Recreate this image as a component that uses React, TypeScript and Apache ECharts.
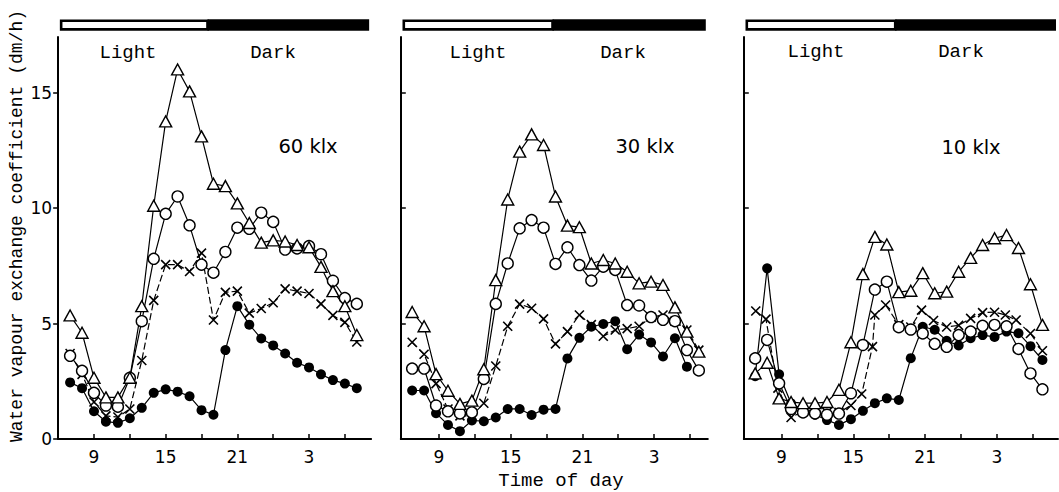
import { useEffect, useRef } from "react";
import * as echarts from "echarts";

// Sampling times (hours; values past 24 belong to the next morning)
const hours60 = [7, 8, 9, 10, 11, 12, 13, 14, 15, 16, 17, 18, 19, 20, 21, 22, 23, 24, 25, 26, 27, 28, 29, 30, 31];
const hours30 = [6.75, 7.75, 8.75, 9.75, 10.75, 11.75, 12.75, 13.75, 14.75, 15.75, 16.75, 17.75, 18.75, 19.75, 20.75, 21.75, 22.75, 23.75, 24.75, 25.75, 26.75, 27.75, 28.75, 29.75, 30.75];
const hours10 = [6.8, 7.8, 8.8, 9.8, 10.8, 11.8, 12.8, 13.8, 14.8, 15.8, 16.8, 17.8, 18.8, 19.8, 20.8, 21.8, 22.8, 23.8, 24.8, 25.8, 26.8, 27.8, 28.8, 29.8, 30.8];
const crossHours10 = [6.85, 7.7, 8.7, 9.8, 10.8, 11.8, 12.8, 13.8, 14.8, 15.7, 16.6, 16.8, 17.7, 18.8, 19.8, 20.7, 21.7, 22.8, 23.8, 24.8, 25.8, 26.8, 27.7, 28.6, 29.8, 30.8];

// 60 klx
const tri60 = [5.35, 4.6, 2.65, 1.8, 1.8, 2.65, 5.75, 10.1, 13.75, 16.0, 15.05, 13.1, 11.05, 10.95, 10.2, 9.35, 8.5, 8.6, 8.55, 8.4, 8.3, 7.45, 6.4, 5.75, 4.5];
const circ60 = [3.6, 2.95, 2.0, 1.45, 1.4, 2.65, 5.1, 7.8, 9.75, 10.5, 9.25, 7.55, 7.2, 8.1, 9.15, 9.1, 9.8, 9.4, 8.2, 8.25, 8.35, 8.0, 6.85, 6.1, 5.85];
const cross60 = [3.7, 2.8, 1.6, 1.0, 0.95, 1.3, 3.4, 6.0, 7.55, 7.55, 7.25, 8.05, 5.15, 6.35, 6.4, 5.45, 5.65, 5.9, 6.5, 6.4, 6.3, 5.85, 5.35, 5.05, 4.2];
const dot60 = [2.45, 2.2, 1.2, 0.75, 0.7, 0.9, 1.35, 2.0, 2.15, 2.05, 1.85, 1.25, 1.05, 3.85, 5.75, 4.95, 4.35, 4.05, 3.7, 3.3, 3.1, 2.8, 2.55, 2.4, 2.2];

// 30 klx
const tri30 = [5.5, 4.88, 2.81, 2.09, 1.52, 1.66, 3.02, 6.88, 10.37, 12.44, 13.19, 12.73, 10.5, 9.24, 9.17, 7.6, 7.75, 7.6, 7.24, 6.74, 6.81, 6.67, 5.7, 4.65, 3.78];
const circ30 = [3.05, 3.05, 1.45, 1.2, 1.11, 1.15, 2.6, 5.85, 7.6, 9.12, 9.48, 9.15, 7.58, 8.3, 7.53, 6.86, 7.46, 7.32, 5.8, 5.78, 5.28, 5.16, 5.1, 3.85, 2.97];
const cross30 = [4.19, 3.67, 2.4, 1.3, 1.0, 1.0, 1.55, 3.16, 4.88, 5.84, 5.66, 5.2, 4.12, 4.65, 5.37, 4.95, 4.45, 4.72, 4.78, 4.88, 5.27, 5.37, 5.1, 4.72, 3.85];
const dot30 = [2.1, 2.1, 1.12, 0.61, 0.34, 0.8, 0.77, 0.93, 1.3, 1.3, 1.04, 1.27, 1.3, 3.49, 4.38, 4.86, 4.98, 5.1, 3.89, 4.52, 4.18, 3.57, 4.36, 3.13];

// 10 klx
const tri10 = [2.84, 3.3, 1.76, 1.6, 1.55, 1.55, 1.6, 2.13, 4.19, 7.14, 8.75, 8.42, 6.36, 6.42, 7.18, 6.31, 6.38, 7.24, 7.84, 8.4, 8.69, 8.83, 8.27, 6.7, 4.94];
const circ10 = [3.49, 4.29, 2.41, 1.3, 1.15, 1.11, 1.05, 1.1, 1.98, 4.07, 6.47, 6.81, 4.84, 4.74, 4.57, 4.12, 3.99, 4.5, 4.65, 4.9, 4.94, 4.88, 3.9, 2.84, 2.15];
const cross10 = [5.54, 5.19, 2.2, 0.93, 1.2, 1.25, 1.15, 1.15, 1.45, 1.95, 4.0, 5.37, 5.8, 4.95, 4.85, 5.58, 5.13, 4.85, 4.92, 5.22, 5.47, 5.49, 5.37, 5.15, 4.57, 3.82];
const dot10 = [2.72, 7.39, 2.8, 1.54, 1.26, 1.05, 0.82, 0.61, 0.86, 1.22, 1.55, 1.76, 1.69, 3.5, 4.86, 4.73, 4.25, 4.05, 4.36, 4.5, 4.42, 4.65, 4.58, 4.02, 3.42];

const xTicks = [9, 12, 15, 18, 21, 24, 27, 30];
const xLabels = [9, 15, 21, 27];
const yTicks = [0, 5, 10, 15];
const panelTitles = ["60 klx", "30 klx", "10 klx"];
const LIGHT_END = 18.5;

const MONO = "'Liberation Mono', 'Courier New', monospace";
const SANS = "'DejaVu Sans', 'Liberation Sans', sans-serif";

// Panel frames (pixels) and their visible time ranges
const frames = [
  { left: 58.15, width: 313, xMin: 6, xMax: 32.2, title: [308, 146], light: [128, 53], dark: [273, 53] },
  { left: 400.8, width: 307, xMin: 5.8, xMax: 31.5, title: [645, 146], light: [478, 53], dark: [623, 53] },
  { left: 743.8, width: 314.2, xMin: 5.85, xMax: 32.1, title: [971, 147], light: [816, 52], dark: [961, 52] },
];
const GRID_TOP = 37.1;
const GRID_H = 401.9;
const Y_MAX = 17.4;

const pairs = (xs: number[], ys: number[]) => ys.map((y, k) => [xs[k], y]);

const panelData = [
  { hours: hours60, crossHours: hours60, tri: tri60, circ: circ60, cross: cross60, dot: dot60 },
  { hours: hours30, crossHours: hours30, tri: tri30, circ: circ30, cross: cross30, dot: dot30 },
  { hours: hours10, crossHours: crossHours10, tri: tri10, circ: circ10, cross: cross10, dot: dot10 },
];

const line = { color: "#000", width: 1.2 };

function buildSeries() {
  const out: any[] = [];
  panelData.forEach((p, i) => {
    const common = { type: "line", xAxisIndex: i, yAxisIndex: i, showSymbol: true, silent: true };
    out.push({
      ...common,
      name: "dark-" + i,
      data: pairs(p.hours, p.dot),
      symbol: "circle",
      symbolSize: 10,
      itemStyle: { color: "#000", borderColor: "#000", borderWidth: 0 },
      lineStyle: line,
    });
    out.push({
      ...common,
      name: "cross-" + i,
      data: pairs(p.crossHours, p.cross),
      symbol: "path://M0,0L10,10M10,0L0,10",
      symbolSize: 9,
      itemStyle: { color: "#000", borderColor: "#000", borderWidth: 1.6 },
      lineStyle: { ...line, type: [7, 3] },
    });
    out.push({
      ...common,
      name: "circle-" + i,
      data: pairs(p.hours, p.circ),
      symbol: "circle",
      symbolSize: 11,
      itemStyle: { color: "#fff", borderColor: "#000", borderWidth: 1.4 },
      lineStyle: line,
    });
    out.push({
      ...common,
      name: "triangle-" + i,
      data: pairs(p.hours, p.tri),
      symbol: "triangle",
      symbolSize: [12, 11],
      itemStyle: { color: "#fff", borderColor: "#000", borderWidth: 1.4 },
      lineStyle: line,
    });
  });
  return out;
}

function buildOption() {
  return {
    animation: false,
    backgroundColor: "#fff",
    grid: frames.map((f) => ({ left: f.left, top: GRID_TOP, width: f.width, height: GRID_H })),
    xAxis: frames.map((f, i) => ({
      type: "value",
      gridIndex: i,
      min: f.xMin,
      max: f.xMax,
      axisLine: { show: true, onZero: false, lineStyle: { color: "#000", width: 2 } },
      axisTick: { show: true, inside: true, length: 5, customValues: xTicks, lineStyle: { color: "#000", width: 1.5 } },
      axisLabel: {
        show: true,
        customValues: xLabels,
        formatter: (v: number) => String(v >= 24 ? v - 24 : v),
        color: "#000",
        fontFamily: SANS,
        fontSize: 17,
        margin: 9,
      },
      splitLine: { show: false },
    })),
    yAxis: frames.map((f, i) => ({
      type: "value",
      gridIndex: i,
      min: 0,
      max: Y_MAX,
      axisLine: { show: true, onZero: false, lineStyle: { color: "#000", width: 2 } },
      axisTick: { show: true, inside: i > 0, length: 5, customValues: yTicks, lineStyle: { color: "#000", width: 1.5 } },
      axisLabel: {
        show: i === 0,
        customValues: yTicks,
        color: "#000",
        fontFamily: SANS,
        fontSize: 17,
        margin: 6,
      },
      splitLine: { show: false },
    })),
    series: buildSeries(),
  };
}

export default function App() {
  const ref = useRef<HTMLDivElement>(null);

  useEffect(() => {
    if (!ref.current) return;
    const chart = echarts.init(ref.current, null, { renderer: "svg" });
    chart.setOption(buildOption());

    const graphics: any[] = [];
    frames.forEach((f, i) => {
      const x0 = f.left + 3;
      const x1 = f.left + f.width - 2;
      const xs = chart.convertToPixel({ xAxisIndex: i }, LIGHT_END) as number;
      // light period: open bar
      graphics.push({
        type: "rect",
        shape: { x: x0, y: 20.8, width: xs - x0, height: 8.6 },
        style: { fill: "#fff", stroke: "#000", lineWidth: 2.6 },
        silent: true,
      });
      // dark period: solid bar
      graphics.push({
        type: "rect",
        shape: { x: xs, y: 19.3, width: x1 - xs, height: 11.4 },
        style: { fill: "#000" },
        silent: true,
      });
      graphics.push({
        type: "text",
        x: f.light[0],
        y: f.light[1],
        style: { text: "Light", font: `19px ${MONO}`, fill: "#000", align: "center", verticalAlign: "middle" },
        silent: true,
      });
      graphics.push({
        type: "text",
        x: f.dark[0],
        y: f.dark[1],
        style: { text: "Dark", font: `19px ${MONO}`, fill: "#000", align: "center", verticalAlign: "middle" },
        silent: true,
      });
      graphics.push({
        type: "text",
        x: f.title[0],
        y: f.title[1],
        style: { text: panelTitles[i], font: `19.5px ${SANS}`, fill: "#000", align: "center", verticalAlign: "middle" },
        silent: true,
      });
    });
    graphics.push({
      type: "text",
      x: 17,
      y: 226,
      rotation: Math.PI / 2,
      style: {
        text: "Water vapour exchange coefficient (dm/h)",
        font: `18px ${MONO}`,
        fill: "#000",
        align: "center",
        verticalAlign: "middle",
      },
      silent: true,
    });
    graphics.push({
      type: "text",
      x: 561,
      y: 481,
      style: {
        text: "Time of day",
        font: `19px ${MONO}`,
        lineHeight: 19,
        fill: "#000",
        align: "center",
        verticalAlign: "middle",
      },
      silent: true,
    });
    chart.setOption({ graphic: graphics });

    return () => chart.dispose();
  }, []);

  return (
    <div
      ref={ref}
      style={{ position: "fixed", left: 0, top: 0, width: 1059, height: 492, background: "#fff" }}
    />
  );
}
